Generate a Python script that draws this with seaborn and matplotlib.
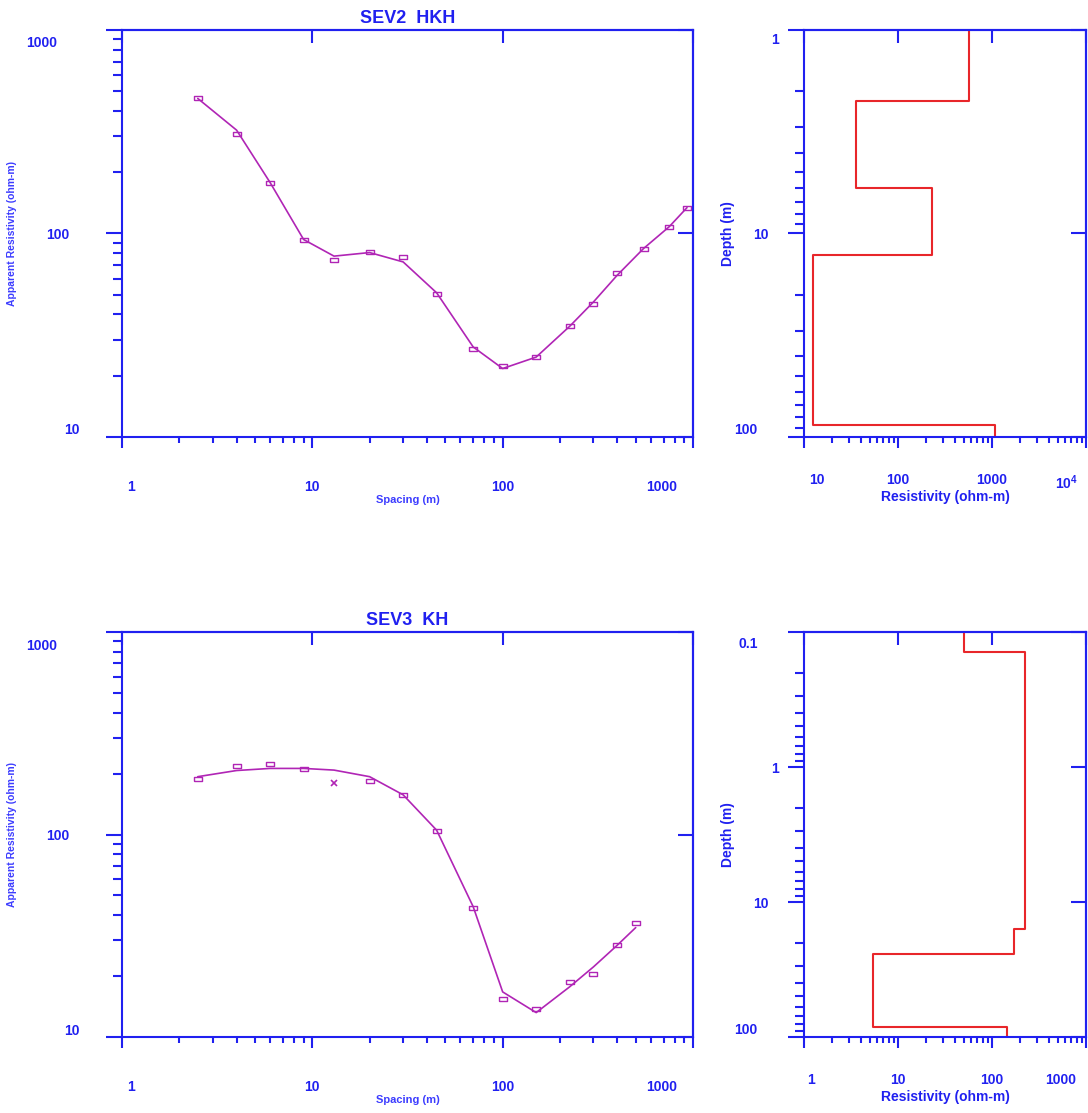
import seaborn as sns
import matplotlib.pyplot as plt
from matplotlib.ticker import NullFormatter, NullLocator
from matplotlib.transforms import ScaledTranslation

BLUE = "#2020f0"
LIGHT_BLUE = "#3c3cff"
MAGENTA = "#b025b5"
RED = "#e8262a"

# SEV2 - field curve (spacing in m, apparent resistivity in ohm-m)
sev2_spacing = [2.5, 4, 6, 9, 13, 20, 30, 45, 70, 100, 150, 225, 300, 400, 550, 750, 930]
sev2_observed = [461, 310, 178, 92.7, 74.5, 81, 76.5, 50.7, 27.2, 22.3, 24.8, 35.3, 44.9, 64.3, 84.1, 108, 134]
sev2_model = [461, 322, 178, 93.4, 77.4, 80.6, 72.5, 51.1, 27.7, 21.7, 24.7, 35.0, 46.1, 62.4, 84.4, 108, 134]

# SEV2 - layered model (HKH)
sev2_rho = [566, 35.8, 232, 12.4, 1067]
sev2_depth = [2.23, 6.0, 12.8, 87]

# SEV3 - field curve
sev3_spacing = [2.5, 4, 6, 9, 13, 20, 30, 45, 70, 100, 150, 225, 300, 400, 500]
sev3_model = [193, 207, 212, 212, 208, 193, 157, 105, 44, 16.7, 13.2, 17.7, 22.2, 28.4, 34.7]
sev3_obs_spacing = [2.5, 4, 6, 9, 20, 30, 45, 70, 100, 150, 225, 300, 400, 500]
sev3_observed = [188, 219, 223, 211, 184, 156, 104.5, 43.5, 15.4, 13.8, 18.6, 20.4, 28.5, 36.5]
sev3_masked_spacing = [13]
sev3_masked = [180]

# SEV3 - layered model (KH)
sev3_rho = [50.9, 222, 171, 5.46, 143]
sev3_depth = [0.1415, 15.8, 24.1, 84.8]

curve_xlim = (1, 1000)
curve_ylim = (10, 1000)
curve_ticks = [1, 10, 100, 1000]
curve_labels = ["1", "10", "100", "1000"]
curve_yticks = [10, 100, 1000]

sev2_depth_lim = (100, 1)
sev2_rho_lim = (10, 10000)
sev3_depth_lim = (100, 0.1)
sev3_rho_lim = (1, 1000)

sns.set_style("ticks")
plt.rcParams["font.family"] = ["Liberation Sans", "DejaVu Sans"]
plt.rcParams["font.weight"] = "bold"
plt.rcParams["axes.titleweight"] = "bold"
plt.rcParams["axes.labelweight"] = "bold"
plt.rcParams["mathtext.fontset"] = "custom"
plt.rcParams["mathtext.rm"] = "Liberation Sans:bold"
plt.rcParams["mathtext.it"] = "Liberation Sans:bold"
plt.rcParams["mathtext.bf"] = "Liberation Sans:bold"

RECT = [(-1, -0.6), (1, -0.6), (1, 0.6), (-1, 0.6), (-1, -0.6)]


def shift_labels(fig, axis, shifts):
    locs = axis.get_majorticklocs()
    for tick, (dx, dy) in zip(axis.get_major_ticks(len(locs)), shifts):
        lab = tick.label1
        lab.set_transform(lab.get_transform() + ScaledTranslation(dx / 100, -dy / 100, fig.dpi_scale_trans))


def frame(fig, ax, xlim, ylim, xticks, xlabels, yticks, ylabels, xpad, ypad, xshift, yshift):
    ax.set_xscale("log")
    ax.set_yscale("log")
    ax.set_xlim(*xlim)
    ax.set_ylim(*ylim)
    ax.set_xticks(xticks, xlabels)
    ax.set_yticks(yticks, ylabels)
    ax.xaxis.set_minor_formatter(NullFormatter())
    ax.yaxis.set_minor_formatter(NullFormatter())
    for s in ax.spines.values():
        s.set_color(BLUE)
        s.set_linewidth(1.5)
    ax.tick_params(bottom=True, left=True, top=False, right=False, which="both")
    ax.tick_params(axis="x", which="major", direction="out", length=8, width=1.5, pad=xpad,
                   color=BLUE, labelcolor=BLUE, labelsize=10)
    ax.tick_params(axis="x", which="minor", direction="out", length=4.3, width=1.5, color=BLUE)
    ax.tick_params(axis="y", which="major", direction="out", length=11.5, width=1.5, pad=ypad,
                   color=BLUE, labelcolor=BLUE, labelsize=10)
    ax.tick_params(axis="y", which="minor", direction="out", length=6.5, width=1.5, color=BLUE)

    top = ax.secondary_xaxis("top")
    top.set_xticks(xticks)
    top.xaxis.set_major_formatter(NullFormatter())
    top.xaxis.set_minor_locator(NullLocator())
    top.tick_params(direction="in", length=9.4, width=1.5, color=BLUE)
    top.spines["top"].set_color(BLUE)
    top.spines["top"].set_linewidth(1.5)

    right = ax.secondary_yaxis("right")
    right.set_yticks(yticks)
    right.yaxis.set_major_formatter(NullFormatter())
    right.yaxis.set_minor_locator(NullLocator())
    right.tick_params(direction="in", length=11, width=1.5, color=BLUE)
    right.spines["right"].set_color(BLUE)
    right.spines["right"].set_linewidth(1.5)

    shift_labels(fig, ax.xaxis, xshift)
    shift_labels(fig, ax.yaxis, yshift)


def layer_path(rho, depth, lim):
    top, bottom = min(lim), max(lim)
    xs, ys = [], []
    tops = [top] + depth
    bottoms = depth + [bottom]
    for r, t, b in zip(rho, tops, bottoms):
        xs += [r, r]
        ys += [t, b]
    return xs, ys


def curve_panel(fig, ax, title, spacing, model, obs_x, obs_y, masked_x=None, masked_y=None):
    ax.set_xscale("log")
    ax.set_yscale("log")
    sns.lineplot(x=spacing, y=model, ax=ax, color=MAGENTA, linewidth=1.2, sort=False, estimator=None)
    sns.lineplot(x=obs_x, y=obs_y, ax=ax, linestyle="", marker=RECT, markersize=5.5,
                 markerfacecolor="none", markeredgecolor=MAGENTA, markeredgewidth=1.0,
                 sort=False, estimator=None)
    if masked_x:
        sns.lineplot(x=masked_x, y=masked_y, ax=ax, linestyle="", marker="x", markersize=4,
                     markeredgecolor=MAGENTA, markeredgewidth=1.2, sort=False, estimator=None)
    frame(fig, ax, curve_xlim, curve_ylim, curve_ticks, curve_labels, curve_yticks,
          ["10", "100", "1000"], 23, 26.6,
          [(9, 0), (0, 0), (0, 0), (-31, 0)], [(11, -8), (0, 0), (-12, 12)])
    ax.set_title(title, fontsize=13, fontweight="bold", color=BLUE, y=1.0, pad=5)
    ax.set_xlabel("Spacing (m)", fontsize=8, color=LIGHT_BLUE)
    ax.xaxis.set_label_coords(0.5, -0.155)
    ax.xaxis.label.set_va("center")
    ax.set_ylabel("Apparent Resistivity (ohm-m)", fontsize=7.5, color=LIGHT_BLUE)
    ax.yaxis.set_label_coords(-0.193, 0.5)
    ax.yaxis.label.set_va("center")


def depth_panel(fig, ax, rho, depth, xlim, ylim, xticks, xlabels, yticks, ylabels, xshift, yshift):
    ax.set_xscale("log")
    ax.set_yscale("log")
    xs, ys = layer_path(rho, depth, ylim)
    sns.lineplot(x=xs, y=ys, ax=ax, color=RED, linewidth=1.5, sort=False, estimator=None)
    frame(fig, ax, xlim, ylim, xticks, xlabels, yticks, ylabels, 18, 16, xshift, yshift)
    ax.set_xlabel("Resistivity (ohm-m)", fontsize=10, color=BLUE)
    ax.xaxis.set_label_coords(0.5, -0.147)
    ax.xaxis.label.set_va("center")
    ax.set_ylabel("Depth (m)", fontsize=10, color=BLUE)
    ax.yaxis.set_label_coords(-0.27, 0.5)
    ax.yaxis.label.set_va("center")


fig = plt.figure(figsize=(10.88, 11.13), dpi=100)
ax_tl = fig.add_axes([0.11213, 0.60737, 0.52482, 0.36568])
ax_tr = fig.add_axes([0.73897, 0.60737, 0.25919, 0.36568])
ax_bl = fig.add_axes([0.11213, 0.06828, 0.52482, 0.36388])
ax_br = fig.add_axes([0.73897, 0.06828, 0.25919, 0.36388])

curve_panel(fig, ax_tl, "SEV2  HKH", sev2_spacing, sev2_model, sev2_spacing, sev2_observed)
curve_panel(fig, ax_bl, "SEV3  KH", sev3_spacing, sev3_model, sev3_obs_spacing, sev3_observed,
            sev3_masked_spacing, sev3_masked)

depth_panel(fig, ax_tr, sev2_rho, sev2_depth, sev2_rho_lim, sev2_depth_lim,
            [10, 100, 1000, 10000], ["10", "100", "1000", "10$^{4}$"],
            [1, 10, 100], ["1", "10", "100"],
            [(13, 0), (0, 0), (0, 0), (-20, 0)], [(13, 9), (3, 0), (-8, -8)])
depth_panel(fig, ax_br, sev3_rho, sev3_depth, sev3_rho_lim, sev3_depth_lim,
            [1, 10, 100, 1000], ["1", "10", "100", "1000"],
            [0.1, 1, 10, 100], ["0.1", "1", "10", "100"],
            [(7, 0), (0, 0), (0, 0), (-25, 0)], [(-8, 10), (13, 0), (3, 0), (-8, -9)])

fig.savefig("out.png", dpi=100)
